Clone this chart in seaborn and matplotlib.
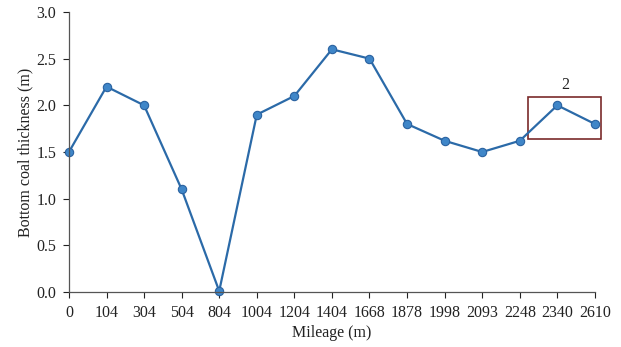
import matplotlib
matplotlib.use("Agg")
import matplotlib.pyplot as plt
import seaborn as sns
import pandas as pd
from matplotlib.patches import Rectangle

mileage = ["0", "104", "304", "504", "804", "1004", "1204", "1404", "1668",
           "1878", "1998", "2093", "2248", "2340", "2610"]
thickness = [1.5, 2.2, 2.0, 1.1, 0.01, 1.9, 2.1, 2.6, 2.5,
             1.8, 1.62, 1.5, 1.62, 2.0, 1.8]

df = pd.DataFrame({"mileage": mileage, "thickness": thickness})

sns.set_style("ticks")
plt.rcParams["font.family"] = ["Liberation Serif", "DejaVu Serif"]

fig = plt.figure(figsize=(6.21, 3.47), dpi=100)
ax = fig.add_axes([0.111, 0.1585, 0.847, 0.807])

sns.lineplot(
    data=df, x="mileage", y="thickness", ax=ax,
    color="#2b6aa8", linewidth=1.6,
    marker="o", markersize=6,
    markerfacecolor="#3f86c8", markeredgecolor="#2a62a0", markeredgewidth=0.8,
    clip_on=False
)

# highlight box around the last two points
ax.add_patch(Rectangle((12.22, 1.64), 1.94, 0.45, fill=False,
                       edgecolor="#7a2a2a", linewidth=1.2, clip_on=False))
ax.text(13.22, 2.13, "2", ha="center", va="bottom", fontsize=11.5, color="#222222")

ax.set_xlim(0, 14)
ax.set_ylim(0, 3.0)
yt = [0, 0.5, 1.0, 1.5, 2.0, 2.5, 3.0]
ax.set_yticks(yt)
ax.set_yticklabels([f"{v:.1f}" for v in yt])

ax.set_xlabel("Mileage (m)", fontsize=11.5, color="#222222", labelpad=3)
ax.set_ylabel("Bottom coal thickness (m)", fontsize=11.5, color="#222222", labelpad=2)
ax.tick_params(labelsize=11.5, colors="#222222", length=4, width=0.8,
               direction="out", pad=5)
for side in ["left", "bottom"]:
    ax.spines[side].set_color("#555555")
    ax.spines[side].set_linewidth(0.9)
sns.despine(ax=ax)

plt.savefig("out.png", dpi=100)
plt.close()
